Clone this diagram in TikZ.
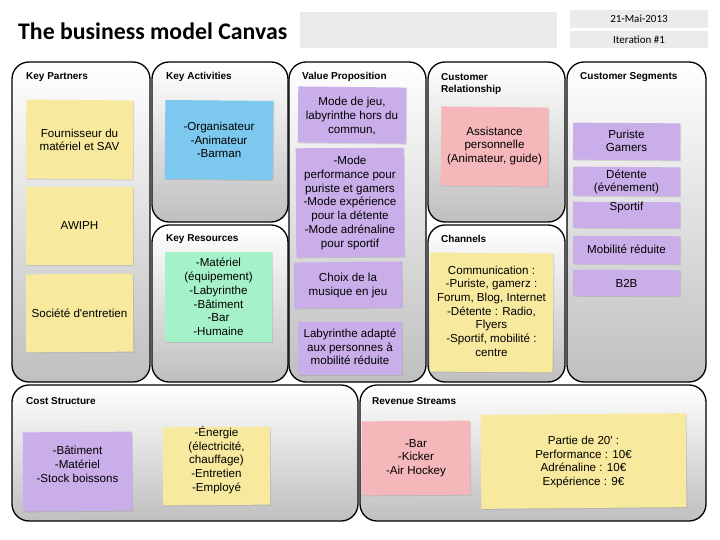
\documentclass[tikz,border=0pt]{standalone}
\usepackage{fontspec}
\setmainfont{Liberation Sans}
\newfontfamily\calib{Carlito}
\usetikzlibrary{shadows}
\definecolor{nyellow}{HTML}{F7EA9E}
\definecolor{nblue}{HTML}{7CC8EE}
\definecolor{ngreen}{HTML}{A6F2C8}
\definecolor{npurple}{HTML}{C9AEEA}
\definecolor{npink}{HTML}{F5B7B9}
\definecolor{hgray}{HTML}{EBEBEB}
\begin{document}
\begin{tikzpicture}[x=1pt,y=-1pt,
  panel/.style={draw=black,line width=1.3pt,rounded corners=17pt,top color=white,bottom color=black!25},
  plabel/.style={anchor=west,font=\fontsize{10}{12}\selectfont\bfseries,align=left,inner sep=0pt},
  note/.style={inner sep=0pt,drop shadow={opacity=0.25,shadow xshift=1pt,shadow yshift=-1pt}},
  ntext/.style={align=center,inner sep=0pt,font=\fontsize{11.6}{13.7}\selectfont},
  hbox/.style={fill=hgray,inner sep=0pt},
  htext/.style={font=\calib\fontsize{11}{12}\selectfont,inner sep=0pt}]
\useasboundingbox (0,0) rectangle (720,540);
\fill[white] (0,0) rectangle (720,540);
% header
\node[anchor=west,inner sep=0pt,font=\calib\bfseries\fontsize{23.8}{26}\selectfont] (title) at (18,31) {The business model Canvas};
\node[hbox,minimum width=257pt,minimum height=36pt] (hdr) at (428.5,30) {};
\node[hbox,minimum width=138pt,minimum height=18pt] (date) at (639,19) {};
\node[htext] (datet) at (date.center) {21-Mai-2013};
\node[hbox,minimum width=138pt,minimum height=17pt] (iter) at (639,39.5) {};
\node[htext] (itert) at (iter.center) {Iteration \#1};
% panels
\path[panel] (12,62) rectangle (150,382);
\path[panel] (152,62) rectangle (288,222);
\path[panel] (152,225) rectangle (288,382);
\path[panel] (289,62) rectangle (426,382);
\path[panel] (428,62) rectangle (565,222);
\path[panel] (428,225) rectangle (565,382);
\path[panel] (567,62) rectangle (706,382);
\path[panel] (12,385) rectangle (358,521);
\path[panel] (360,385) rectangle (706,521);
% panel labels
\node[plabel] (lkp) at (26,77) {Key Partners};
\node[plabel] (lka) at (166,77) {Key Activities};
\node[plabel] (lvp) at (302,77) {Value Proposition};
\node[plabel,anchor=north west] (lcr) at (441,73) {Customer\\Relationship};
\node[plabel] (lcs) at (580,77) {Customer Segments};
\node[plabel] (lkr) at (166,239) {Key Resources};
\node[plabel] (lch) at (441,239) {Channels};
\node[plabel] (lco) at (26,401) {Cost Structure};
\node[plabel] (lrs) at (372,401) {Revenue Streams};
% key partners
\node[note,fill=nyellow,minimum width=107pt,minimum height=79pt,rotate=-0.5] (kp1) at (79.5,139.5) {};
\node[ntext] (kp1t) at (79.5,140) {Fournisseur du\\matériel et SAV};
\node[note,fill=nyellow,minimum width=107pt,minimum height=78pt] (kp2) at (79.5,226) {};
\node[ntext] (kp2t) at (79.5,226) {AWIPH};
\node[note,fill=nyellow,minimum width=107pt,minimum height=78pt,rotate=0.4] (kp3) at (79.5,313) {};
\node[ntext] (kp3t) at (79.5,313) {Société d\textquotesingle entretien};
% key activities / resources
\node[note,fill=nblue,minimum width=108pt,minimum height=79pt,rotate=-0.5] (ka1) at (219,140) {};
\node[ntext] (ka1t) at (219,140) {-Organisateur\\-Animateur\\-Barman};
\node[note,fill=ngreen,minimum width=107pt,minimum height=90pt] (kr1) at (218.5,297) {};
\node[ntext] (kr1t) at (218.5,297) {-Matériel\\(équipement)\\-Labyrinthe\\-Bâtiment\\-Bar\\-Humaine};
% value proposition
\node[note,fill=npurple,minimum width=108pt,minimum height=56pt,rotate=-0.6] (vp1) at (352,115) {};
\node[ntext] (vp1t) at (352,116) {Mode de jeu,\\labyrinthe hors du\\commun,};
\node[note,fill=npurple,minimum width=108pt,minimum height=109pt,rotate=0.3] (vp2) at (350,202.5) {};
\node[ntext] (vp2t) at (350,203) {-Mode\\performance pour\\puriste et gamers\\-Mode expérience\\pour la détente\\-Mode adrénaline\\pour sportif};
\node[note,fill=npurple,minimum width=108pt,minimum height=46pt,rotate=0.6] (vp3) at (348,285) {};
\node[ntext] (vp3t) at (348,285.5) {Choix de la\\musique en jeu};
\node[note,fill=npurple,minimum width=104pt,minimum height=53pt] (vp4) at (350,348.5) {};
\node[ntext] (vp4t) at (350,347) {Labyrinthe adapté\\aux personnes à\\mobilité réduite};
% customer relationship / channels
\node[note,fill=npink,minimum width=107pt,minimum height=79pt,rotate=-0.6] (cr1) at (494.5,146.5) {};
\node[ntext] (cr1t) at (494.5,146) {Assistance\\personnelle\\(Animateur, guide)};
\node[note,fill=nyellow,minimum width=123pt,minimum height=119pt,rotate=-0.4] (ch1) at (491.5,312.5) {};
\node[ntext] (ch1t) at (491.5,311) {Communication :\\-Puriste, gamerz :\\Forum, Blog, Internet\\-Détente : Radio,\\Flyers\\-Sportif, mobilité :\\centre};
% customer segments
\node[note,fill=npurple,minimum width=107pt,minimum height=37pt,rotate=-0.4] (cs1) at (626.5,141.5) {};
\node[ntext] (cs1t) at (626.5,141) {Puriste\\Gamers};
\node[note,fill=npurple,minimum width=107pt,minimum height=29pt,rotate=-0.4] (cs2) at (626.5,181.5) {};
\node[ntext] (cs2t) at (626.5,182) {Détente\\(événement)};
\node[note,fill=npurple,minimum width=107pt,minimum height=26pt,rotate=-0.3] (cs3) at (626.5,215) {};
\node[ntext] (cs3t) at (626.5,208) {Sportif};
\node[note,fill=npurple,minimum width=107pt,minimum height=28pt,rotate=-0.3] (cs4) at (626.5,250) {};
\node[ntext] (cs4t) at (626.5,249) {Mobilité réduite};
\node[note,fill=npurple,minimum width=107pt,minimum height=26pt,rotate=-0.3] (cs5) at (626.5,283) {};
\node[ntext] (cs5t) at (626.5,283) {B2B};
% cost structure
\node[note,fill=npurple,minimum width=109pt,minimum height=79pt,rotate=0.4] (co1) at (77.5,471.5) {};
\node[ntext] (co1t) at (77.5,464.5) {-Bâtiment\\-Matériel\\-Stock boissons};
\node[note,fill=nyellow,minimum width=107pt,minimum height=78pt,rotate=0.4] (co2) at (216.5,466) {};
\node[ntext] (co2t) at (216.5,460) {-Énergie\\(électricité,\\chauffage)\\-Entretien\\-Employé};
% revenue streams
\node[note,fill=npink,minimum width=108pt,minimum height=74pt,rotate=0.4] (rs1) at (416,458) {};
\node[ntext] (rs1t) at (416,458) {-Bar\\-Kicker\\-Air Hockey};
\node[note,fill=nyellow,minimum width=205pt,minimum height=94pt,rotate=0.5] (rs2) at (583.5,461) {};
\node[ntext] (rs2t) at (583.5,462) {Partie de 20\textquotesingle{} :\\Performance : 10€\\Adrénaline : 10€\\Expérience : 9€};
\end{tikzpicture}
\end{document}
